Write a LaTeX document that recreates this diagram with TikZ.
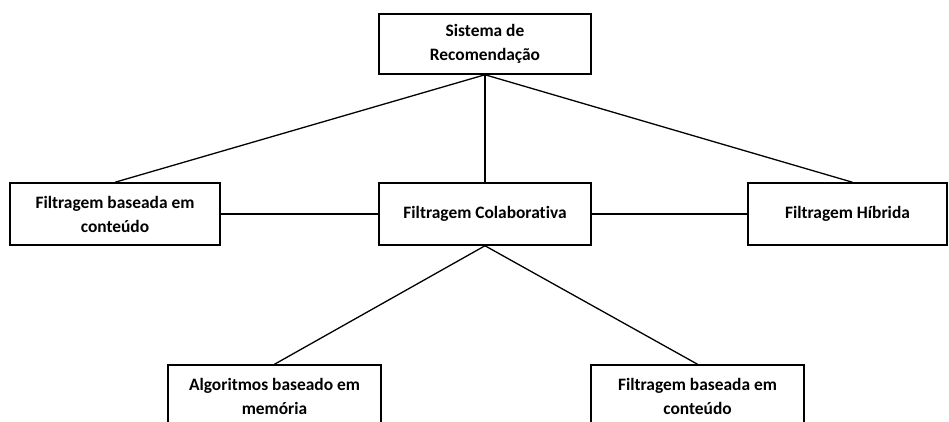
\documentclass[tikz,border=0pt]{standalone}
\usepackage{fontspec}
\setmainfont[Ligatures=NoCommon]{Carlito}
\tikzset{
  caixa/.style={draw, line width=1.5pt, align=center, inner sep=2pt,
    font=\bfseries\fontsize{17.4}{24}\selectfont},
  liga/.style={line width=1.3pt}
}
\begin{document}
\begin{tikzpicture}[x=1pt,y=-1pt]
    \clip (0,0) rectangle (949,421);
    \useasboundingbox (0,0) rectangle (949,421);
    \node[caixa, minimum width=212pt, minimum height=60pt] (sistema) at (485,44) {Sistema de\\Recomendação};
    \node[caixa, minimum width=210pt, minimum height=62pt] (conteudo) at (115,214) {Filtragem baseada em\\conteúdo};
    \node[caixa, minimum width=212pt, minimum height=62pt] (colab) at (485,214) {Filtragem Colaborativa};
    \node[caixa, minimum width=199pt, minimum height=62pt] (hibrida) at (847.5,214) {Filtragem Híbrida};
    \node[caixa, minimum width=213pt, minimum height=62pt] (memoria) at (274.5,396) {Algoritmos baseado em\\memória};
    \node[caixa, minimum width=213pt, minimum height=62pt] (conteudo2) at (697.5,396) {Filtragem baseada em\\conteúdo};
    \draw[liga] (sistema.south) -- (conteudo.north);
    \draw[liga] (sistema.south) -- (colab.north);
    \draw[liga] (sistema.south) -- ([xshift=5pt]hibrida.north);
    \draw[liga] (conteudo.east) -- (colab.west);
    \draw[liga] (colab.east) -- (hibrida.west);
    \draw[liga] (colab.south) -- (memoria.north);
    \draw[liga] (colab.south) -- (conteudo2.north);
  \end{tikzpicture}
\end{document}
